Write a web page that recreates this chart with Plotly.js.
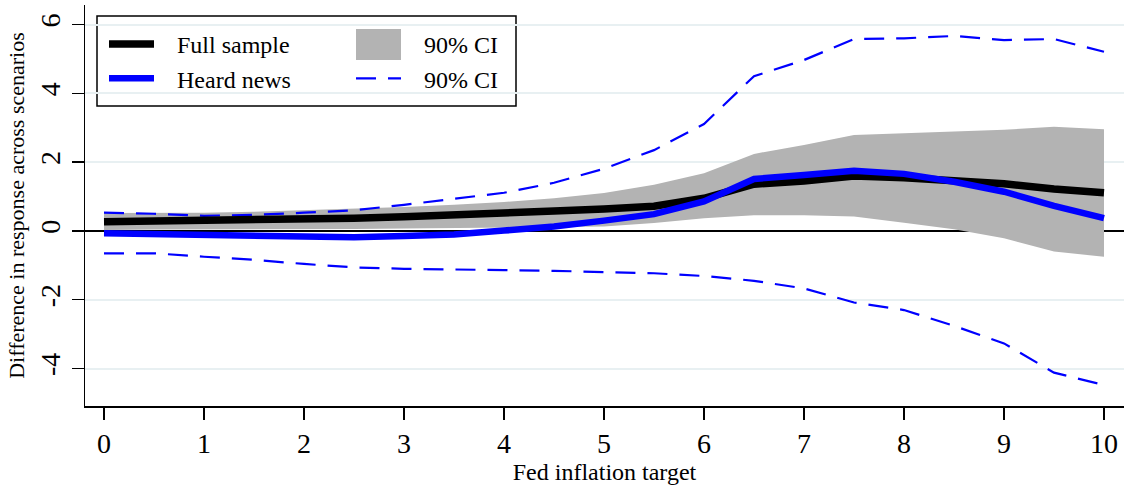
<!DOCTYPE html>
<html>
<head>
<meta charset="utf-8">
<script src="https://cdn.plot.ly/plotly-3.0.1.min.js"></script>
<style>html,body{margin:0;padding:0;background:#fff;}#chart{width:1124px;height:485px;}</style>
</head>
<body>
<div id="chart"></div>
<script>
// Fed inflation target (x)
const target = [0,0.5,1,1.5,2,2.5,3,3.5,4,4.5,5,5.5,6,6.5,7,7.5,8,8.5,9,9.5,10];
// Full sample: point estimate and 90% CI
const fullSample = [0.27,0.28,0.30,0.32,0.34,0.37,0.41,0.45,0.51,0.58,0.64,0.72,0.95,1.36,1.45,1.60,1.55,1.48,1.37,1.22,1.11];
const fullUpper  = [0.52,0.52,0.53,0.56,0.60,0.64,0.70,0.76,0.84,0.95,1.10,1.34,1.68,2.24,2.50,2.79,2.84,2.89,2.94,3.03,2.96];
const fullLower  = [0.03,0.04,0.05,0.05,0.06,0.06,0.07,0.08,0.09,0.11,0.13,0.23,0.37,0.46,0.46,0.42,0.24,0.05,-0.21,-0.60,-0.75];
// Heard news: point estimate and 90% CI
const heardNews  = [-0.07,-0.09,-0.14,-0.17,-0.18,-0.18,-0.15,-0.10,0.01,0.13,0.30,0.49,0.86,1.51,1.63,1.75,1.66,1.43,1.14,0.73,0.37];
const heardUpper = [0.53,0.50,0.44,0.47,0.53,0.60,0.76,0.93,1.11,1.40,1.81,2.35,3.11,4.50,4.97,5.58,5.60,5.67,5.55,5.58,5.21];
const heardLower = [-0.65,-0.65,-0.75,-0.84,-0.96,-1.06,-1.10,-1.13,-1.14,-1.16,-1.19,-1.23,-1.31,-1.45,-1.67,-2.08,-2.30,-2.76,-3.27,-4.12,-4.48];

const xTicks = [0,1,2,3,4,5,6,7,8,9,10];
const yTicks = [-4,-2,0,2,4,6];

const FONT = 'Liberation Serif, Times New Roman, serif';
const BLUE = '#0000ff';
const GRAY = '#b3b3b3';
const PAD = '\u00a0\u00a0\u00a0';

const bandX = target.concat(target.slice().reverse());
const bandY = fullUpper.concat(fullLower.slice().reverse());

const traces = [
  {x: bandX, y: bandY, type: 'scatter', mode: 'lines', fill: 'toself',
   fillcolor: GRAY, line: {width: 0, color: GRAY},
   name: '90% CI', showlegend: false, hoverinfo: 'skip'},
  // legend entry for the band (its key box is the grey rectangle in the legend)
  {x: [null], y: [null], type: 'scatter', mode: 'lines', fill: 'toself',
   fillcolor: 'rgba(0,0,0,0)', line: {width: 0, color: 'rgba(0,0,0,0)'},
   name: PAD + '90% CI', legend: 'legend2', legendrank: 1},
  {x: target, y: heardUpper, type: 'scatter', mode: 'lines',
   line: {color: BLUE, width: 2.2, dash: '20px,12px'},
   name: PAD + '90% CI', legend: 'legend2', legendrank: 2},
  {x: target, y: heardLower, type: 'scatter', mode: 'lines',
   line: {color: BLUE, width: 2.2, dash: '20px,12px'},
   name: '90% CI', showlegend: false},
  {x: target, y: fullSample, type: 'scatter', mode: 'lines',
   line: {color: '#000000', width: 7.5},
   name: PAD + 'Full sample', legend: 'legend', legendrank: 1},
  {x: target, y: heardNews, type: 'scatter', mode: 'lines',
   line: {color: BLUE, width: 6.5},
   name: PAD + 'Heard news', legend: 'legend', legendrank: 2}
];

const plotL = 85, plotR = 1124, plotT = 5, plotB = 406;
const pw = plotR - plotL, ph = plotB - plotT;
const px = v => (v - plotL) / pw;
const py = v => (plotB - v) / ph;

const legendCommon = {
  bgcolor: 'rgba(0,0,0,0)', borderwidth: 0,
  font: {family: FONT, size: 24, color: '#000'},
  orientation: 'v', traceorder: 'normal', tracegroupgap: 0,
  xanchor: 'left', yanchor: 'top', itemwidth: 45
};

const layout = {
  width: 1124, height: 485,
  margin: {l: plotL, r: 1124 - plotR, t: plotT, b: 485 - plotB},
  paper_bgcolor: '#ffffff', plot_bgcolor: '#ffffff',
  font: {family: FONT, color: '#000'},
  showlegend: true,
  legend: Object.assign({}, legendCommon, {x: px(104), y: py(22)}),
  legend2: Object.assign({}, legendCommon, {x: px(351), y: py(22)}),
  xaxis: {
    range: [-0.19, 10.2], tickvals: xTicks, ticktext: xTicks.map(String),
    showgrid: false, zeroline: false,
    showline: true, linecolor: '#000', linewidth: 1.5,
    ticks: 'outside', ticklen: 12, tickwidth: 1.5, tickcolor: '#000',
    tickfont: {family: FONT, size: 28, color: '#000'},
    title: {text: 'Fed inflation target', font: {family: FONT, size: 24, color: '#000'}, standoff: 4}
  },
  yaxis: {
    range: [-5.09, 6.57], tickvals: yTicks, ticktext: yTicks.map(String),
    tickangle: -90,
    showgrid: true, gridcolor: '#e8f0f2', gridwidth: 2,
    zeroline: true, zerolinecolor: '#000', zerolinewidth: 1.5,
    showline: true, linecolor: '#000', linewidth: 1.5,
    ticks: 'outside', ticklen: 12, tickwidth: 1.5, tickcolor: '#000',
    tickfont: {family: FONT, size: 28, color: '#000'},
    title: {text: 'Difference in response across scenarios', font: {family: FONT, size: 22, color: '#000'}, standoff: 4}
  },
  shapes: [
    {type: 'rect', xref: 'paper', yref: 'paper', layer: 'below',
     x0: px(97), x1: px(516), y0: py(106), y1: py(16),
     fillcolor: '#ffffff', line: {color: '#000', width: 1.5}},
    {type: 'rect', xref: 'paper', yref: 'paper', layer: 'below',
     x0: px(356), x1: px(401), y0: py(60), y1: py(29),
     fillcolor: GRAY, line: {width: 0}}
  ]
};

Plotly.newPlot('chart', traces, layout, {staticPlot: true, displayModeBar: false});
</script>
</body>
</html>
